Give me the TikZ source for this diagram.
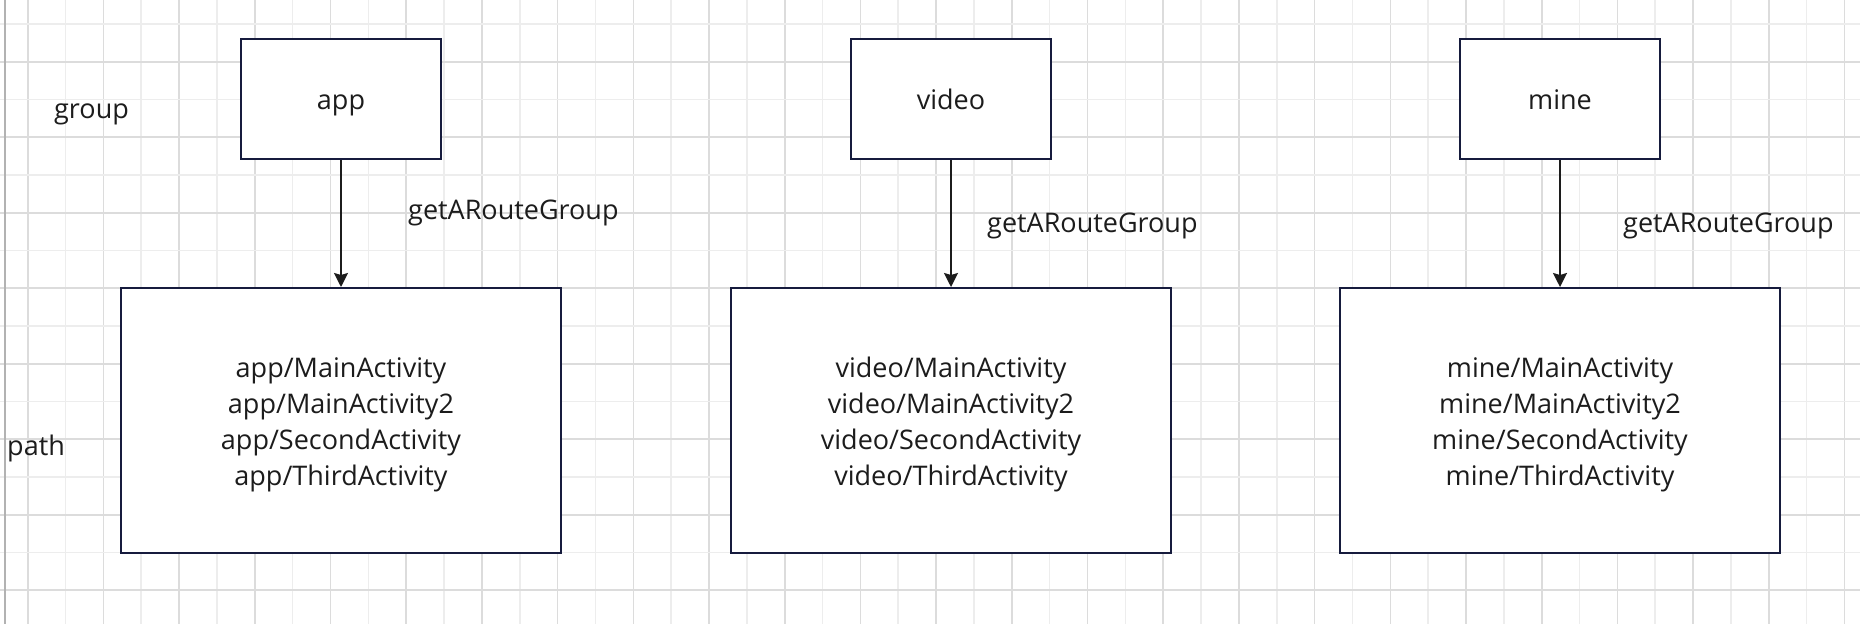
\documentclass[tikz,border=0pt]{standalone}
\usepackage{fontspec}
\setmainfont{Open Sans}
\usetikzlibrary{arrows.meta}

\definecolor{boxline}{HTML}{161B3D}
\definecolor{ink}{HTML}{1C1C1C}
\definecolor{gridA}{HTML}{DCDCDC}
\definecolor{gridB}{HTML}{EDEDED}

\tikzset{
  lbl/.style={font=\fontsize{27}{36}\selectfont, text=ink, inner sep=0pt},
  free/.style={lbl, anchor=base west},
  grpbox/.style={lbl, draw=boxline, line width=2pt, fill=white,
    text height=23pt, text depth=2pt,
    minimum width=200pt, minimum height=120pt},
  pathbox/.style={draw=boxline, line width=2pt, fill=white,
    minimum width=440pt, minimum height=265pt},
  pathtxt/.style={lbl, align=center, yshift=-4pt},
  conn/.style={draw=ink, line width=2pt,
    -{Stealth[length=14pt,width=14pt,inset=2pt]}}
}

\begin{document}
\begin{tikzpicture}[x=1pt,y=-1pt]
  \useasboundingbox (0,0) rectangle (1860,624);
  \fill[white] (0,0) rectangle (1860,624);
  % grid
  \foreach \k in {0,...,48} {
    \pgfmathsetmacro{\gx}{27.7+37.85*\k}
    \ifodd\k \def\gc{gridB}\else \def\gc{gridA}\fi
    \draw[\gc, line width=1.6pt] (\gx,0) -- (\gx,624);
  }
  \foreach \k in {0,...,16} {
    \pgfmathsetmacro{\gy}{24+37.75*\k}
    \ifodd\k \def\gc{gridA}\else \def\gc{gridB}\fi
    \draw[\gc, line width=1.6pt] (0,\gy) -- (1860,\gy);
  }
  \draw[black!30, line width=2pt] (5,0) -- (5,624);

  % row labels
  \node[free] (grp) at (54,118) {group};
  \node[free] (pth) at (7,455) {path};

  % app
  \node[grpbox] (appG) at (341,99) {app};
  \node[pathbox] (appP) at (341,420.5) {};
  \node[pathtxt] (appT) at (appP) {app/MainActivity\\app/MainActivity2\\app/SecondActivity\\app/ThirdActivity};
  \draw[conn] (appG) -- (appP);
  \node[free] (appF) at (408,219) {getARouteGroup};

  % video
  \node[grpbox] (vidG) at (951,99) {video};
  \node[pathbox] (vidP) at (951,420.5) {};
  \node[pathtxt] (vidT) at (vidP) {video/MainActivity\\video/MainActivity2\\video/SecondActivity\\video/ThirdActivity};
  \draw[conn] (vidG) -- (vidP);
  \node[free] (vidF) at (987,232) {getARouteGroup};

  % mine
  \node[grpbox] (minG) at (1560,99) {mine};
  \node[pathbox] (minP) at (1560,420.5) {};
  \node[pathtxt] (minT) at (minP) {mine/MainActivity\\mine/MainActivity2\\mine/SecondActivity\\mine/ThirdActivity};
  \draw[conn] (minG) -- (minP);
  \node[free] (minF) at (1623,232) {getARouteGroup};
\end{tikzpicture}
\end{document}
